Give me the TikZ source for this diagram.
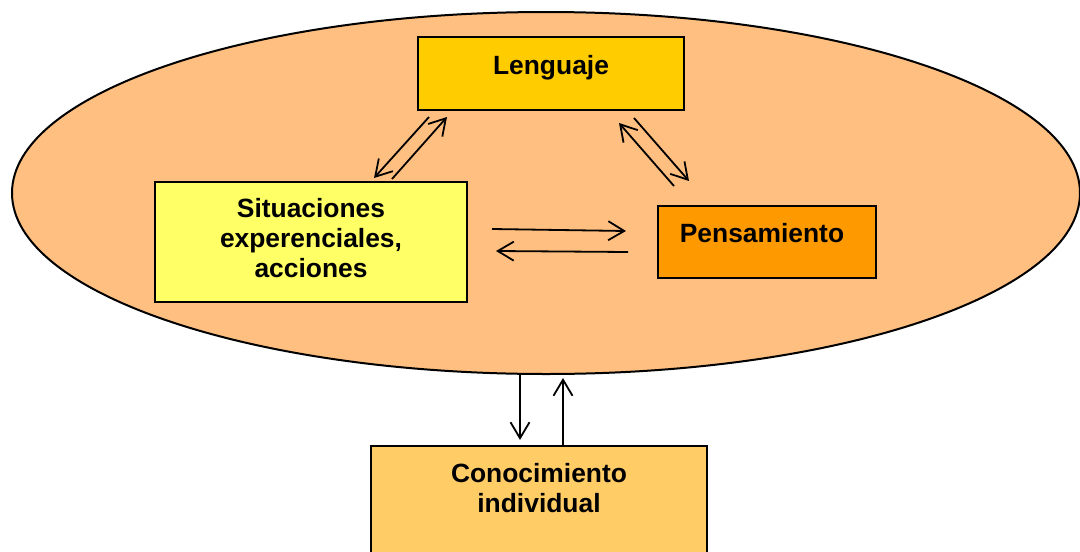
\documentclass[tikz,border=0pt]{standalone}
\usepackage{fontspec}
\setmainfont{Liberation Sans}
\usetikzlibrary{arrows.meta}
\definecolor{ovalfill}{HTML}{FFBF80}
\definecolor{lengfill}{HTML}{FFCC00}
\definecolor{situfill}{HTML}{FFFF66}
\definecolor{pensfill}{HTML}{FF9900}
\definecolor{conofill}{HTML}{FFCC66}
\begin{document}
\begin{tikzpicture}[x=1pt,y=-1pt,
  box/.style={draw=black, line width=2pt, inner sep=0pt, rectangle},
  lbl/.style={inner sep=0pt, align=center, anchor=base,
    font=\fontsize{26.4}{30}\selectfont\bfseries},
  link/.style={draw=black, line width=1.8pt,
    -{Straight Barb[length=16pt,width=19pt,line width=1.8pt]}}]
\useasboundingbox (0,0) rectangle (1080,552);
% oval
\draw[fill=ovalfill, line width=2pt] (546,193) ellipse [x radius=534, y radius=181];
% boxes
\node[box, fill=lengfill, minimum width=266, minimum height=73] (leng) at (551,73.5) {};
\node[box, fill=situfill, minimum width=312, minimum height=120] (situ) at (311,242) {};
\node[box, fill=pensfill, minimum width=218, minimum height=72] (pens) at (767,242) {};
\node[box, fill=conofill, minimum width=336, minimum height=154] (cono) at (539,523) {};
% labels (base anchor = baseline of the last line)
\node[lbl] (lengT) at (551,74) {Lenguaje};
\node[lbl] (situT) at (311,277) {Situaciones\\experenciales,\\acciones};
\node[lbl] (pensT) at (762,242) {Pensamiento};
\node[lbl] (conoT) at (539,512) {Conocimiento\\individual};
% arrow end points
\coordinate (ls1a) at (429,117); \coordinate (ls1b) at (374,178);
\coordinate (ls2a) at (392,179); \coordinate (ls2b) at (447,117);
\coordinate (lp1a) at (674,186); \coordinate (lp1b) at (619,123);
\coordinate (lp2a) at (634,118); \coordinate (lp2b) at (689,181);
\coordinate (sp1a) at (492,229); \coordinate (sp1b) at (626,231);
\coordinate (sp2a) at (628,252); \coordinate (sp2b) at (496,251);
\coordinate (dn1a) at (520,373); \coordinate (dn1b) at (520,440);
\coordinate (up1a) at (563,446); \coordinate (up1b) at (563,378);
% connectors
\draw[link] (ls1a) -- (ls1b);
\draw[link] (ls2a) -- (ls2b);
\draw[link] (lp1a) -- (lp1b);
\draw[link] (lp2a) -- (lp2b);
\draw[link] (sp1a) -- (sp1b);
\draw[link] (sp2a) -- (sp2b);
\draw[link] (dn1a) -- (dn1b);
\draw[link] (up1a) -- (up1b);
\end{tikzpicture}
\end{document}
